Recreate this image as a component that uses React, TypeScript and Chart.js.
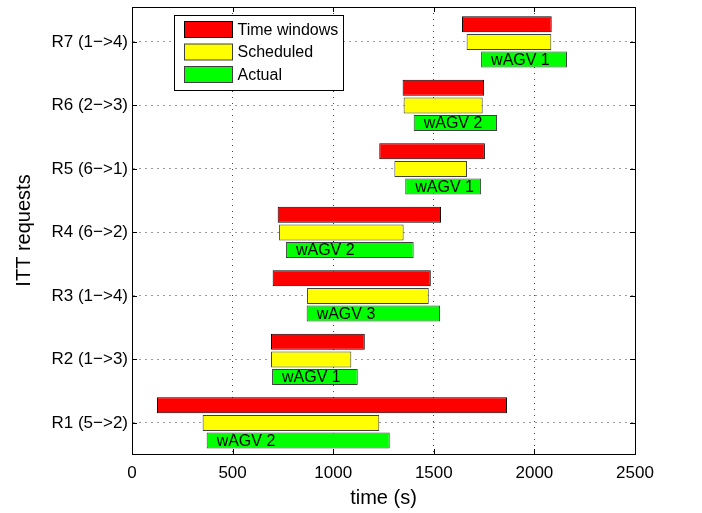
import React, { useEffect, useRef } from 'react';
import { Chart, registerables } from 'chart.js';

Chart.register(...registerables);

const categories = ['R1 (5\u2212>2)', 'R2 (1\u2212>3)', 'R3 (1\u2212>4)', 'R4 (6\u2212>2)', 'R5 (6\u2212>1)', 'R6 (2\u2212>3)', 'R7 (1\u2212>4)'];
const windowStart = [124, 691, 699, 724, 1229, 1345, 1640];
const windowEnd = [1864, 1157, 1485, 1536, 1754, 1750, 2086];
const schedStart = [351, 691, 870, 731, 1304, 1350, 1663];
const schedEnd = [1229, 1090, 1475, 1350, 1665, 1743, 2084];
const actualStart = [371, 696, 868, 765, 1358, 1400, 1735];
const actualEnd = [1281, 1122, 1531, 1400, 1735, 1814, 2162];
const agvLabels = ['wAGV 2', 'wAGV 1', 'wAGV 3', 'wAGV 2', 'wAGV 1', 'wAGV 2', 'wAGV 1'];
const seriesNames = ['Time windows', 'Scheduled', 'Actual'];
const seriesColors = ['#ff0000', '#ffff00', '#00ff00'];
const seriesBorders = ['#000000', '#404040', '#404040'];
const xTicksMin = 0;
const xTicksMax = 2500;
const xTickStep = 500;
const yMin = 0.51;
const yMax = 7.55;

const FONT = "'Liberation Sans', Arial, Helvetica, sans-serif";

export default function App() {
  const ref = useRef<HTMLCanvasElement>(null);

  useEffect(() => {
    if (!ref.current) return;

    const pair = (s: number[], e: number[]) => s.map((v, i) => ({ x: [v, e[i]], y: i + 1 }));

    const overlayPlugin = {
      id: 'overlay',
      afterDatasetsDraw(chart: any) {
        const ctx = chart.ctx;
        const meta = chart.getDatasetMeta(2);
        ctx.save();
        ctx.fillStyle = '#000';
        ctx.font = `16px ${FONT}`;
        ctx.textBaseline = 'middle';
        ctx.textAlign = 'left';
        meta.data.forEach((el: any, i: number) => {
          const left = Math.min(el.x, el.base);
          ctx.fillText(agvLabels[i], left + 10, el.y + 1);
        });
        ctx.restore();
      },
      afterDraw(chart: any) {
        const { ctx, chartArea: a, scales } = chart;
        const xs = scales.x;
        const ys = scales.y;
        ctx.save();
        ctx.strokeStyle = '#000';
        ctx.lineWidth = 1;
        ctx.setLineDash([]);
        ctx.beginPath();
        xs.ticks.forEach((_t: any, i: number) => {
          const px = Math.round(xs.getPixelForTick(i)) + 0.5;
          ctx.moveTo(px, a.bottom);
          ctx.lineTo(px, a.bottom - 5);
          ctx.moveTo(px, a.top);
          ctx.lineTo(px, a.top + 5);
        });
        ys.ticks.forEach((_t: any, i: number) => {
          const py = Math.round(ys.getPixelForTick(i)) + 0.5;
          ctx.moveTo(a.left, py);
          ctx.lineTo(a.left + 5, py);
          ctx.moveTo(a.right, py);
          ctx.lineTo(a.right - 5, py);
        });
        ctx.stroke();
        ctx.strokeRect(Math.round(a.left) + 0.5, Math.round(a.top) + 0.5, Math.round(a.right - a.left), Math.round(a.bottom - a.top));

        // legend box
        const bx = a.left + 42.5;
        const by = a.top + 8.5;
        const bw = 169;
        const bh = 75;
        ctx.fillStyle = '#fff';
        ctx.fillRect(bx, by, bw, bh);
        ctx.strokeRect(bx, by, bw, bh);
        ctx.font = `16px ${FONT}`;
        ctx.textBaseline = 'middle';
        ctx.textAlign = 'left';
        seriesNames.forEach((name, i) => {
          const sy = by + 6 + i * 22.5;
          ctx.fillStyle = seriesColors[i];
          ctx.fillRect(bx + 10, sy, 48, 16);
          ctx.strokeStyle = seriesBorders[i];
          ctx.strokeRect(bx + 10, sy, 48, 16);
          ctx.fillStyle = '#000';
          ctx.fillText(name, bx + 63, sy + 9);
        });
        ctx.restore();
      },
    };

    const chart = new Chart(ref.current, {
      type: 'bar',
      data: {
        datasets: [
          { label: seriesNames[0], data: pair(windowStart, windowEnd) as any },
          { label: seriesNames[1], data: pair(schedStart, schedEnd) as any },
          { label: seriesNames[2], data: pair(actualStart, actualEnd) as any },
        ].map((d, i) => ({
          ...d,
          backgroundColor: seriesColors[i],
          borderColor: seriesBorders[i],
          borderWidth: 1,
          borderSkipped: false,
          categoryPercentage: 0.83,
          barPercentage: 0.91,
        })),
      },
      options: {
        indexAxis: 'y',
        responsive: false,
        animation: false,
        layout: { padding: { top: 7, right: 67, left: 0, bottom: 0 } },
        plugins: {
          legend: { display: false },
          tooltip: { enabled: false },
        },
        scales: {
          x: {
            type: 'linear',
            min: xTicksMin,
            max: xTicksMax,
            ticks: {
              stepSize: xTickStep,
              color: '#000',
              font: { family: FONT, size: 17 },
              padding: 9,
              maxRotation: 0,
              callback: (v: any) => String(v),
            },
            grid: {
              color: '#444',
              drawTicks: false,
              lineWidth: 1,
            },
            border: { display: true, color: '#000', dash: [1, 5] },
            title: {
              display: true,
              text: 'time (s)',
              color: '#000',
              font: { family: FONT, size: 20 },
              padding: { top: 0, bottom: 3 },
            },
            afterFit(scale: any) {
              scale.height = 59;
              scale.paddingLeft = 0;
              scale.paddingRight = 0;
            },
          } as any,
          y: {
            type: 'linear',
            min: yMin,
            max: yMax,
            offset: false,
            afterBuildTicks(scale: any) {
              scale.ticks = categories.map((_c, i) => ({ value: i + 1 }));
            },
            ticks: {
              color: '#000',
              font: { family: FONT, size: 17 },
              padding: 4,
              autoSkip: false,
              callback: (v: any) => categories[Math.round(v) - 1] ?? '',
            },
            grid: {
              offset: false,
              color: '#999',
              drawTicks: false,
              lineWidth: 1,
            },
            border: { display: true, color: '#000', dash: [2, 4] },
            title: {
              display: true,
              text: 'ITT requests',
              color: '#000',
              font: { family: FONT, size: 20 },
              padding: { top: 12, bottom: 0 },
            },
            afterFit(scale: any) {
              scale.width = 132;
              scale.paddingTop = 0;
              scale.paddingBottom = 0;
            },
          } as any,
        },
      },
      plugins: [overlayPlugin],
    });

    return () => chart.destroy();
  }, []);

  return (
    <canvas
      ref={ref}
      width={702}
      height={513}
      style={{ position: 'fixed', left: 0, top: 0, display: 'block', background: '#fff' }}
    />
  );
}
